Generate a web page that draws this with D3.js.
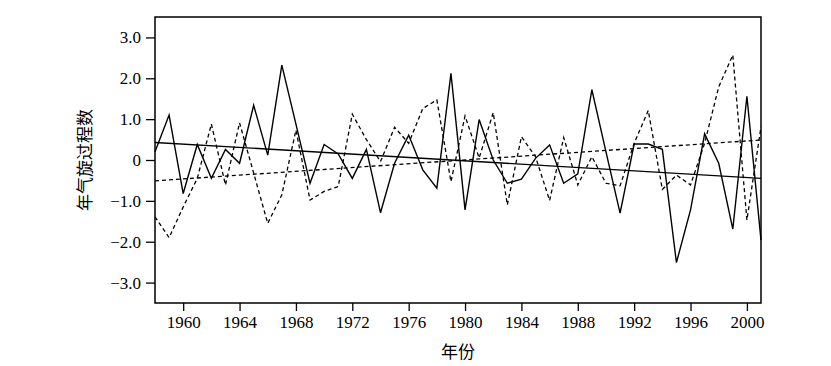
<!DOCTYPE html>
<meta charset="utf-8">
<style>
body { margin: 0; background: #fff; }
.axis text { font-family: "Liberation Serif", "DejaVu Serif", serif; font-size: 17px; fill: #000; }
.axis path { display: none; }
.axis line { stroke: #000; stroke-width: 1.3px; }
.frame { fill: none; stroke: #000; stroke-width: 1.5px; }
.series { fill: none; stroke: #000; }
.title { font-family: "Noto Sans CJK SC", sans-serif; font-size: 17px; fill: #000; }
</style>
<body>
<script src="https://d3js.org/d3.v7.min.js"></script>
<script>
// years of record
var years = d3.range(1958, 2002);

// solid series
var solidVals = [0.20, 1.10, -0.82, 0.38, -0.45, 0.26, -0.08, 1.34, 0.12, 2.32,
    0.88, -0.57, 0.38, 0.15, -0.45, 0.26, -1.29, -0.08, 0.61, -0.24,
    -0.69, 2.12, -1.22, 0.99, 0.00, -0.57, -0.47, 0.04, 0.37, -0.57,
    -0.34, 1.72, 0.20, -1.30, 0.39, 0.39, 0.26, -2.51, -1.22, 0.64,
    -0.08, -1.69, 1.56, -1.96];

// dashed series
var dashedVals = [-1.39, -1.90, -1.15, -0.45, 0.88, -0.61, 0.91, -0.32, -1.55, -0.85,
    0.73, -0.98, -0.77, -0.65, 1.12, 0.50, -0.04, 0.80, 0.41, 1.26,
    1.47, -0.53, 1.08, 0.05, 1.16, -1.10, 0.57, 0.08, -0.99, 0.55,
    -0.61, 0.08, -0.57, -0.63, 0.41, 1.21, -0.72, -0.37, -0.61, 0.41,
    1.79, 2.57, -1.47, 0.81];

// linear trend end points
var trendYears = [1958, 2001];
var trendSolid = [0.43, -0.45];
var trendDashed = [-0.51, 0.49];

var xTicks = d3.range(1960, 2001, 4);
var yTicks = [-3, -2, -1, 0, 1, 2, 3];

var margin = {top: 17, right: 70, bottom: 63, left: 155},
    width = 831 - margin.left - margin.right,
    height = 366 - margin.top - margin.bottom;

var svg = d3.select("body").append("svg")
    .attr("width", 831)
    .attr("height", 366);

var g = svg.append("g")
    .attr("transform", "translate(" + margin.left + "," + margin.top + ")");

var x = d3.scaleLinear().domain([1958, 2001]).range([0, width]);
var y = d3.scaleLinear().domain([-3.5, 3.5]).range([height, 0]);

var fmt = function (d) {
    if (d === 0) return "0";
    return (d < 0 ? "\u2212" : "") + Math.abs(d).toFixed(1);
};

g.append("g")
    .attr("class", "axis")
    .attr("transform", "translate(0," + height + ")")
    .call(d3.axisBottom(x).tickValues(xTicks).tickFormat(d3.format("d")).tickSize(8).tickPadding(5));

g.append("g")
    .attr("class", "axis")
    .call(d3.axisLeft(y).tickValues(yTicks).tickFormat(fmt).tickSize(9).tickPadding(5));

var line = d3.line()
    .x(function (d) { return x(d[0]); })
    .y(function (d) { return y(d[1]); });

g.append("path")
    .attr("class", "series")
    .attr("stroke-width", 1.4)
    .attr("d", line(d3.zip(years, solidVals)));

g.append("path")
    .attr("class", "series")
    .attr("stroke-width", 1.3)
    .attr("stroke-dasharray", "4,3")
    .attr("d", line(d3.zip(years, dashedVals)));

g.append("path")
    .attr("class", "series")
    .attr("stroke-width", 1.4)
    .attr("d", line(d3.zip(trendYears, trendSolid)));

g.append("path")
    .attr("class", "series")
    .attr("stroke-width", 1.3)
    .attr("stroke-dasharray", "4,3")
    .attr("d", line(d3.zip(trendYears, trendDashed)));

g.append("rect")
    .attr("class", "frame")
    .attr("width", width)
    .attr("height", height);

svg.append("text")
    .attr("class", "title")
    .attr("text-anchor", "middle")
    .attr("x", margin.left + width / 2)
    .attr("y", 358)
    .text("年份");

svg.append("text")
    .attr("class", "title")
    .attr("text-anchor", "middle")
    .attr("transform", "translate(91," + (margin.top + y(0)) + ") rotate(-90)")
    .text("年气旋过程数");
</script>
</body>
